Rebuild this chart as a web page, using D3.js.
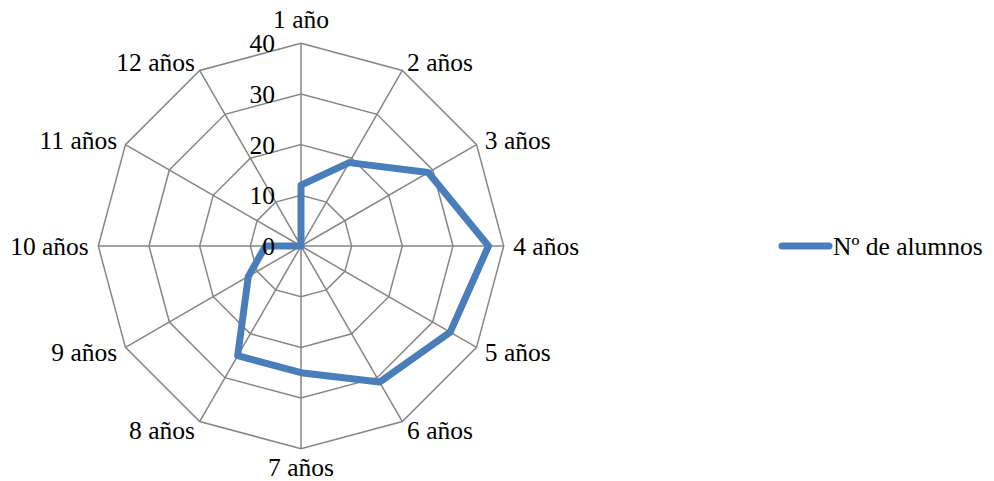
<!DOCTYPE html>
<html><head><meta charset="utf-8">
<script src="https://cdn.jsdelivr.net/npm/d3@7"></script>
<style>
html,body{margin:0;padding:0;background:#fff;}
</style></head>
<body>
<svg id="chart" width="994" height="481" font-family="'Liberation Serif', 'DejaVu Serif', 'Times New Roman', serif"></svg>
<script>
const categories = ["1 año","2 años","3 años","4 años","5 años","6 años","7 años","8 años","9 años","10 años","11 años","12 años"];
const values = [12,19,29,37,34,31,25,25,12,7,0,0];
const seriesName = "Nº de alumnos";
const ticks = [0,10,20,30,40];

const FONT = "Liberation Serif";
const svg = d3.select("#chart");
const cx = 301, cy = 246, R = 202.7;
const r = d3.scaleLinear().domain([0,40]).range([0,R]);
const step = 2*Math.PI/categories.length;
const a = c => categories.indexOf(c)*step;
const pt = (c,v) => [cx + r(v)*Math.sin(a(c)), cy - r(v)*Math.cos(a(c))];

const grid = svg.append("g");
ticks.filter(t=>t>0).forEach(t=>{
  grid.append("path")
    .attr("d", d3.line()(categories.map(c=>pt(c,t))) + "Z")
    .attr("fill","none").attr("stroke","#868686").attr("stroke-width",1.5);
});
categories.forEach(c=>{
  const [x,y] = pt(c,40);
  grid.append("line").attr("x1",cx).attr("y1",cy).attr("x2",x).attr("y2",y)
    .attr("stroke","#868686").attr("stroke-width",1.5);
});
// series
svg.append("path")
  .attr("d", d3.line()(categories.map((c,i)=>pt(c,values[i]))) + "Z")
  .attr("fill","none").attr("stroke","#4a7ebb").attr("stroke-width",7)
  .attr("stroke-linejoin","round");
// tick labels (drawn above the series, as in the reference)
ticks.forEach(t=>{
  svg.append("text").attr("x",275).attr("y",cy - r(t) + 9)
    .attr("text-anchor","end").attr("font-size",25.5)
    .style("font-family",FONT).text(t);
});
categories.forEach((c,i)=>{
  const [vx,vy] = pt(c,40);
  const th = a(c);
  const s = Math.sin(th), co = Math.cos(th);
  let x, y, anchor;
  if (Math.abs(s) < 1e-6) {
    anchor = "middle"; x = vx;
    y = co > 0 ? vy - 15 : vy + 27.5;
  } else {
    anchor = s > 0 ? "start" : "end";
    x = vx + 9.5*s;
    y = vy + 9 - 9.2*co;
  }
  svg.append("text").attr("x",x).attr("y",y).attr("text-anchor",anchor)
    .attr("font-size",25.5).style("font-family",FONT).text(c);
});
svg.append("line").attr("x1",782).attr("y1",246).attr("x2",829).attr("y2",246)
  .attr("stroke","#4a7ebb").attr("stroke-width",7).attr("stroke-linecap","round");
svg.append("text").attr("x",833).attr("y",255).attr("font-size",25.5)
  .style("font-family",FONT).text(seriesName);
</script>
</body></html>
